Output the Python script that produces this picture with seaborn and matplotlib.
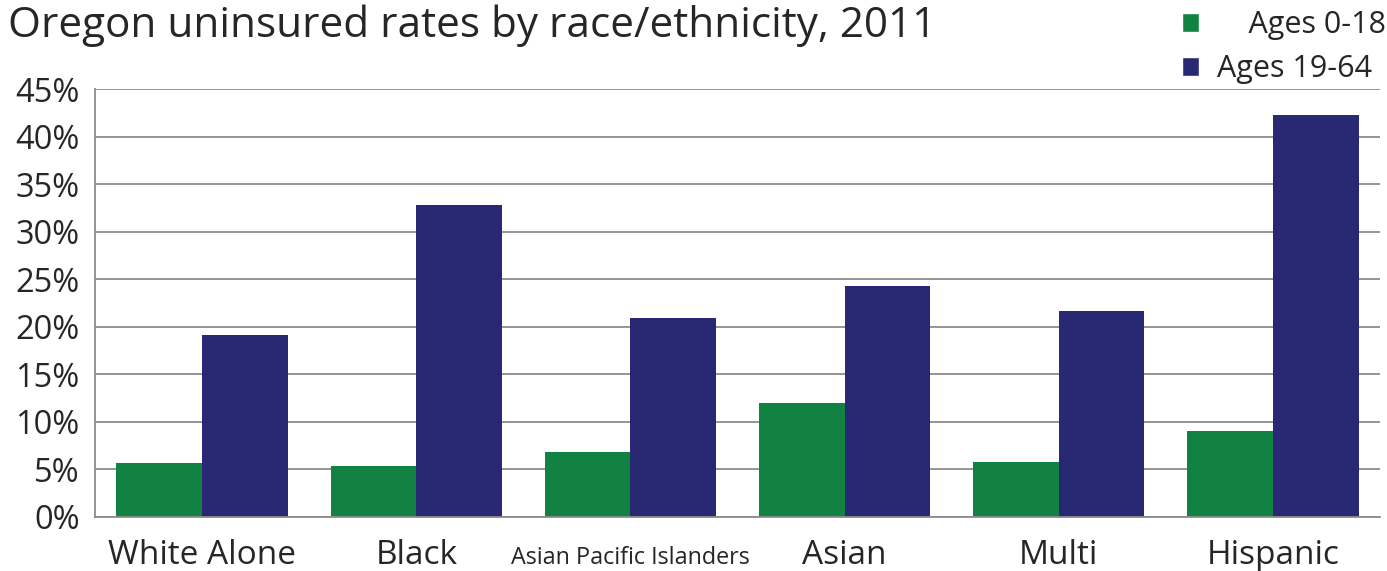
import matplotlib
matplotlib.use("Agg")
import matplotlib.pyplot as plt
import matplotlib.transforms as mtransforms
import pandas as pd
import seaborn as sns
from matplotlib.patches import Patch
from matplotlib.ticker import FixedLocator, FuncFormatter

# values
groups = ["White Alone", "Black", "Asian Pacific Islanders", "Asian", "Multi", "Hispanic"]
ages_0_18 = [5.7, 5.4, 6.8, 12.0, 5.8, 9.0]
ages_19_64 = [19.1, 32.8, 20.9, 24.3, 21.7, 42.3]
series = ["Ages 0-18", "Ages 19-64"]
colors = ["#118241", "#292973"]

df = pd.DataFrame({
    "group": groups * 2,
    "age": [series[0]] * len(groups) + [series[1]] * len(groups),
    "rate": ages_0_18 + ages_19_64,
})

sns.set_style("white")
plt.rcParams["font.family"] = ["Open Sans", "DejaVu Sans"]

fig = plt.figure(figsize=(13.87, 5.71), dpi=100)
ax = fig.add_axes([0.0685, 0.0946, 0.9265, 0.7495])

sns.barplot(data=df, x="group", y="rate", hue="age", palette=colors,
            order=groups, hue_order=series, width=0.8, saturation=1,
            linewidth=0, ax=ax, legend=False)

ax.set_ylim(0, 45)
ax.set_xlim(-0.5, len(groups) - 0.5)
ax.set_yticks(range(0, 46, 5))
ax.yaxis.set_major_formatter(FuncFormatter(lambda v, _: f"{int(v)}%"))
ax.grid(axis="y", color="#8c8c8c", linewidth=1.3)
ax.set_axisbelow(True)
ax.set_xlabel("")
ax.set_ylabel("")

for s in ["top", "right"]:
    ax.spines[s].set_visible(False)
for s in ["left", "bottom"]:
    ax.spines[s].set_color("#8c8c8c")
    ax.spines[s].set_linewidth(1.3)

ax.tick_params(axis="y", length=7, width=1.3, color="#8c8c8c",
               labelsize=23.5, pad=4)
ax.tick_params(axis="x", which="major", length=0, labelsize=24, pad=16)
ax.xaxis.set_minor_locator(FixedLocator([i - 0.5 for i in range(len(groups) + 1)]))
ax.tick_params(axis="x", which="minor", length=9, width=1.3, color="#8c8c8c")
shift = mtransforms.ScaledTranslation(0, -5 / 72, fig.dpi_scale_trans)
for lbl in ax.get_xticklabels():
    if lbl.get_text() == "Asian Pacific Islanders":
        lbl.set_fontsize(16.8)
        lbl.set_transform(lbl.get_transform() + shift)

fig.text(0.006, 0.955, "Oregon uninsured rates by race/ethnicity, 2011",
         fontsize=30.4, va="center", ha="left")

handles = [Patch(facecolor=c) for c in colors]
fig.legend(handles, ["    Ages 0-18", "Ages 19-64"], loc="upper right",
           bbox_to_anchor=(1.019, 1.03), frameon=False, fontsize=22,
           handlelength=0.55, handleheight=0.55, handletextpad=0.6,
           labelspacing=0.45)

fig.savefig("out.png", dpi=100)
